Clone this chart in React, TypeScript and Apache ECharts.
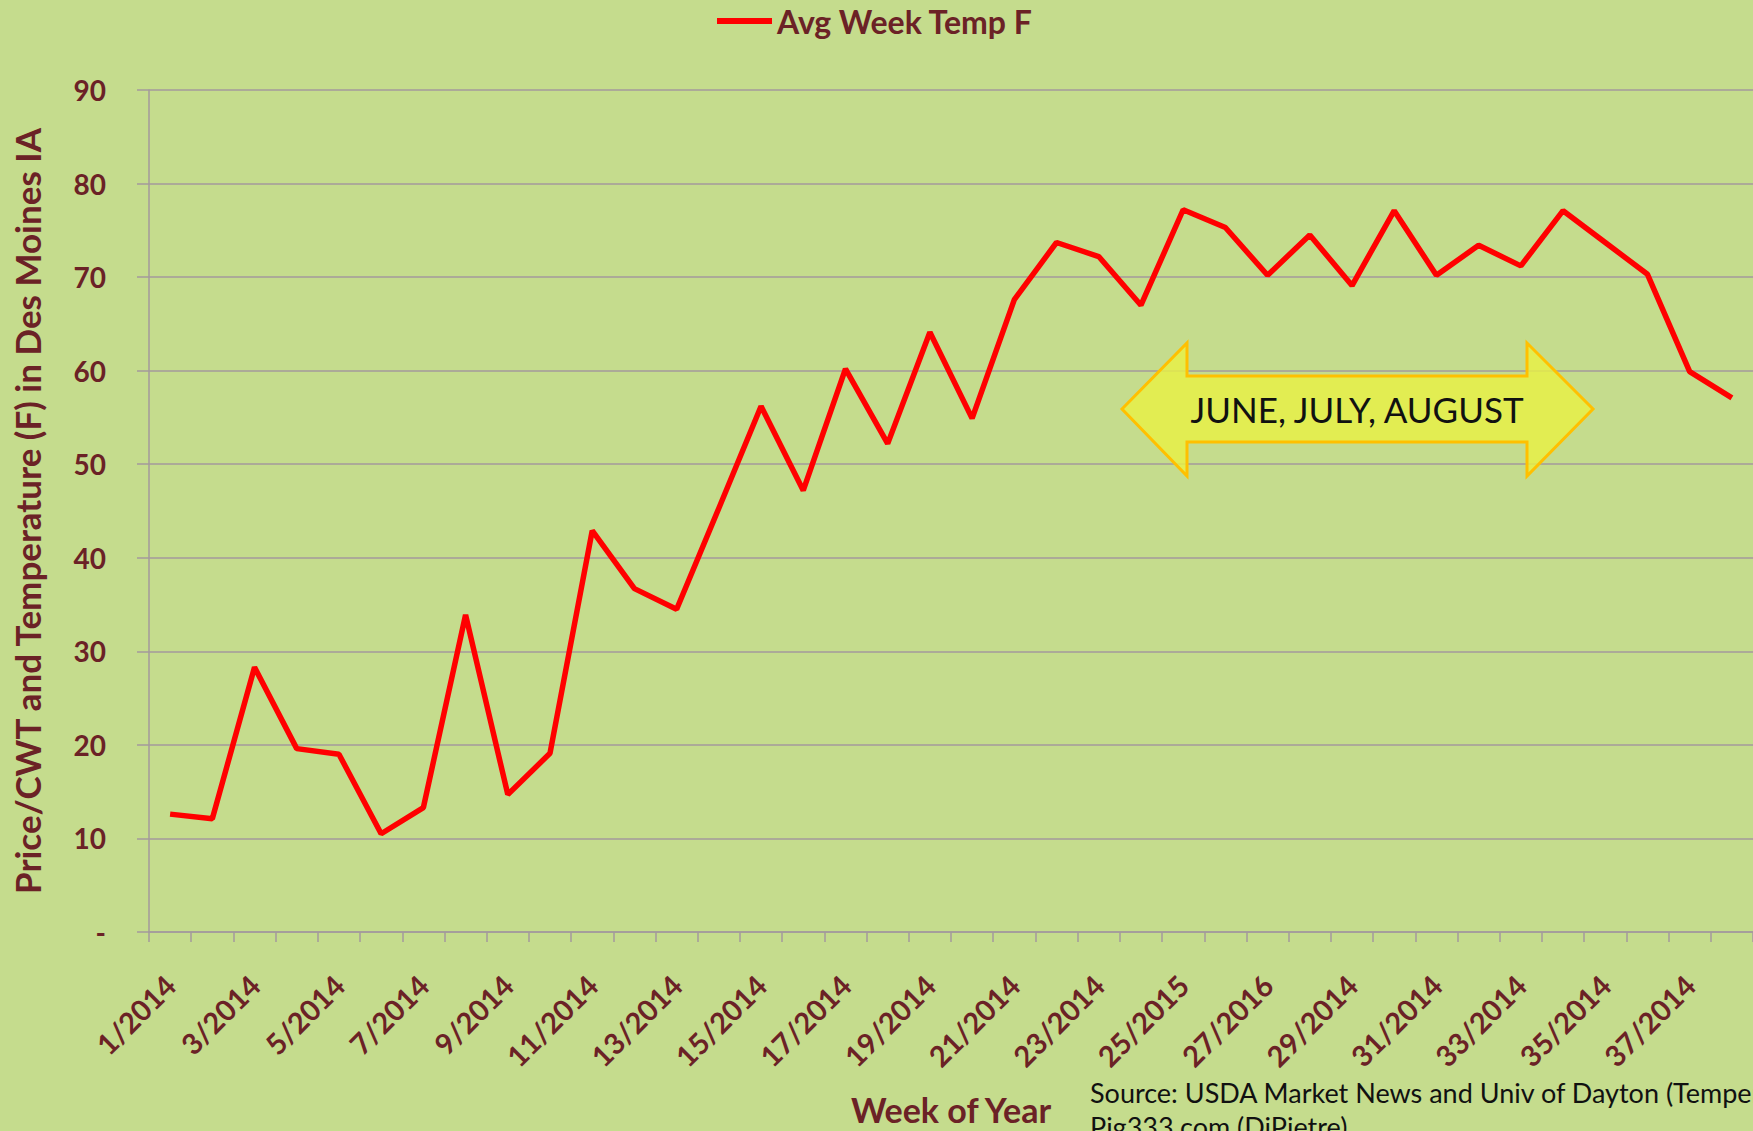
import React, { useEffect, useRef } from "react";
import * as echarts from "echarts";

const weekLabels = [
  "1/2014", "2/2014", "3/2014", "4/2014", "5/2014", "6/2014", "7/2014", "8/2014",
  "9/2014", "10/2014", "11/2014", "12/2014", "13/2014", "14/2014", "15/2014", "16/2014",
  "17/2014", "18/2014", "19/2014", "20/2014", "21/2014", "22/2014", "23/2014", "24/2014",
  "25/2015", "26/2014", "27/2016", "28/2014", "29/2014", "30/2014", "31/2014", "32/2014",
  "33/2014", "34/2014", "35/2014", "36/2014", "37/2014", "38/2014",
];

const avgWeekTemp = [
  12.6, 12.1, 28.3, 19.6, 19.0, 10.5, 13.3, 33.9, 14.7, 19.1,
  42.9, 36.7, 34.5, 45.3, 56.2, 47.2, 60.2, 52.2, 64.1, 54.9,
  67.6, 73.7, 72.2, 67.0, 77.2, 75.3, 70.2, 74.5, 69.1, 77.1,
  70.2, 73.4, 71.2, 77.1, 73.7, 70.3, 59.9, 57.1,
];

const yMin = 0;
const yMax = 90;
const yStep = 10;

const seriesName = "Avg Week Temp F";
const yAxisTitle = "Price/CWT and Temperature (F) in Des Moines IA";
const xAxisTitle = "Week of Year";
const arrowText = "JUNE, JULY, AUGUST";
const sourceLine1 = "Source: USDA Market News and Univ of Dayton (Temperature)";
const sourceLine2 = "Pig333.com (DiPietre)";

export default function App() {
  const ref = useRef<HTMLDivElement>(null);
  useEffect(() => {
    const chart = echarts.init(ref.current!, null, { renderer: "svg" });
    const maroon = "#6B2226";
    const gridColor = "#A39A9C";
    const font = "Lato";
    chart.setOption({
      animation: false,
      backgroundColor: "#C5DC8D",
      textStyle: { fontFamily: font },
      legend: {
        top: 0,
        left: 712,
        icon: "rect",
        itemWidth: 55,
        itemHeight: 6,
        textStyle: { color: maroon, fontSize: 32, fontWeight: "bold", fontFamily: font },
        data: [{ name: seriesName, itemStyle: { color: "#FF0000" } }],
      },
      grid: { left: 149, top: 90, width: 1607, height: 842 },
      xAxis: {
        type: "category",
        data: weekLabels,
        boundaryGap: true,
        name: xAxisTitle,
        nameLocation: "middle",
        nameGap: 160,
        nameTextStyle: { color: maroon, fontSize: 34, fontWeight: "bold", fontFamily: font },
        axisLine: { show: true, lineStyle: { color: gridColor, width: 1.5 } },
        axisTick: { show: true, interval: 0, length: 10, lineStyle: { color: gridColor, width: 1.5 } },
        axisLabel: {
          interval: 1,
          rotate: 45,
          margin: 48,
          color: maroon,
          fontSize: 29,
          fontWeight: "bold",
          fontFamily: font,
        },
        splitLine: { show: false },
      },
      yAxis: {
        type: "value",
        min: yMin,
        max: yMax,
        interval: yStep,
        name: yAxisTitle,
        nameLocation: "middle",
        nameGap: 105,
        nameRotate: 90,
        nameTextStyle: { color: maroon, fontSize: 35, fontWeight: "bold", fontFamily: font },
        axisLine: { show: true, lineStyle: { color: gridColor, width: 1.5 } },
        axisTick: { show: true, length: 12, lineStyle: { color: gridColor, width: 1.5 } },
        axisLabel: {
          margin: 43,
          color: maroon,
          fontSize: 28,
          fontWeight: "bold",
          fontFamily: font,
          formatter: (v: number) => (v === 0 ? "-" : String(v)),
        },
        splitLine: { show: true, lineStyle: { color: gridColor, width: 1.5 } },
      },
      series: [
        {
          type: "line",
          name: seriesName,
          data: avgWeekTemp,
          symbol: "none",
          lineStyle: { color: "#FF0000", width: 5.5 },
          itemStyle: { color: "#FF0000" },
        },
      ],
      graphic: [
        {
          type: "polygon",
          z: 5,
          shape: {
            points: [
              [1122, 409], [1187, 343], [1187, 376], [1527, 376], [1527, 343],
              [1593, 409], [1527, 476], [1527, 442], [1187, 442], [1187, 476],
            ],
          },
          style: { fill: "rgba(232, 240, 70, 0.82)", stroke: "#FFC000", lineWidth: 3 },
        },
        {
          type: "text",
          z: 6,
          x: 1357,
          y: 409,
          style: {
            text: arrowText,
            fill: "#111111",
            fontSize: 35,
            fontFamily: font,
            align: "center",
            verticalAlign: "middle",
          },
        },
        {
          type: "text",
          z: 6,
          x: 1090,
          y: 1092,
          style: {
            text: sourceLine1,
            fill: "#111111",
            fontSize: 27,
            fontFamily: font,
            align: "left",
            verticalAlign: "middle",
          },
        },
        {
          type: "text",
          z: 6,
          x: 1090,
          y: 1126,
          style: {
            text: sourceLine2,
            fill: "#111111",
            fontSize: 27,
            fontFamily: font,
            align: "left",
            verticalAlign: "middle",
          },
        },
      ],
    });
    return () => chart.dispose();
  }, []);
  return (
    <div
      ref={ref}
      style={{ position: "fixed", left: 0, top: 0, width: 1753, height: 1131 }}
    />
  );
}
